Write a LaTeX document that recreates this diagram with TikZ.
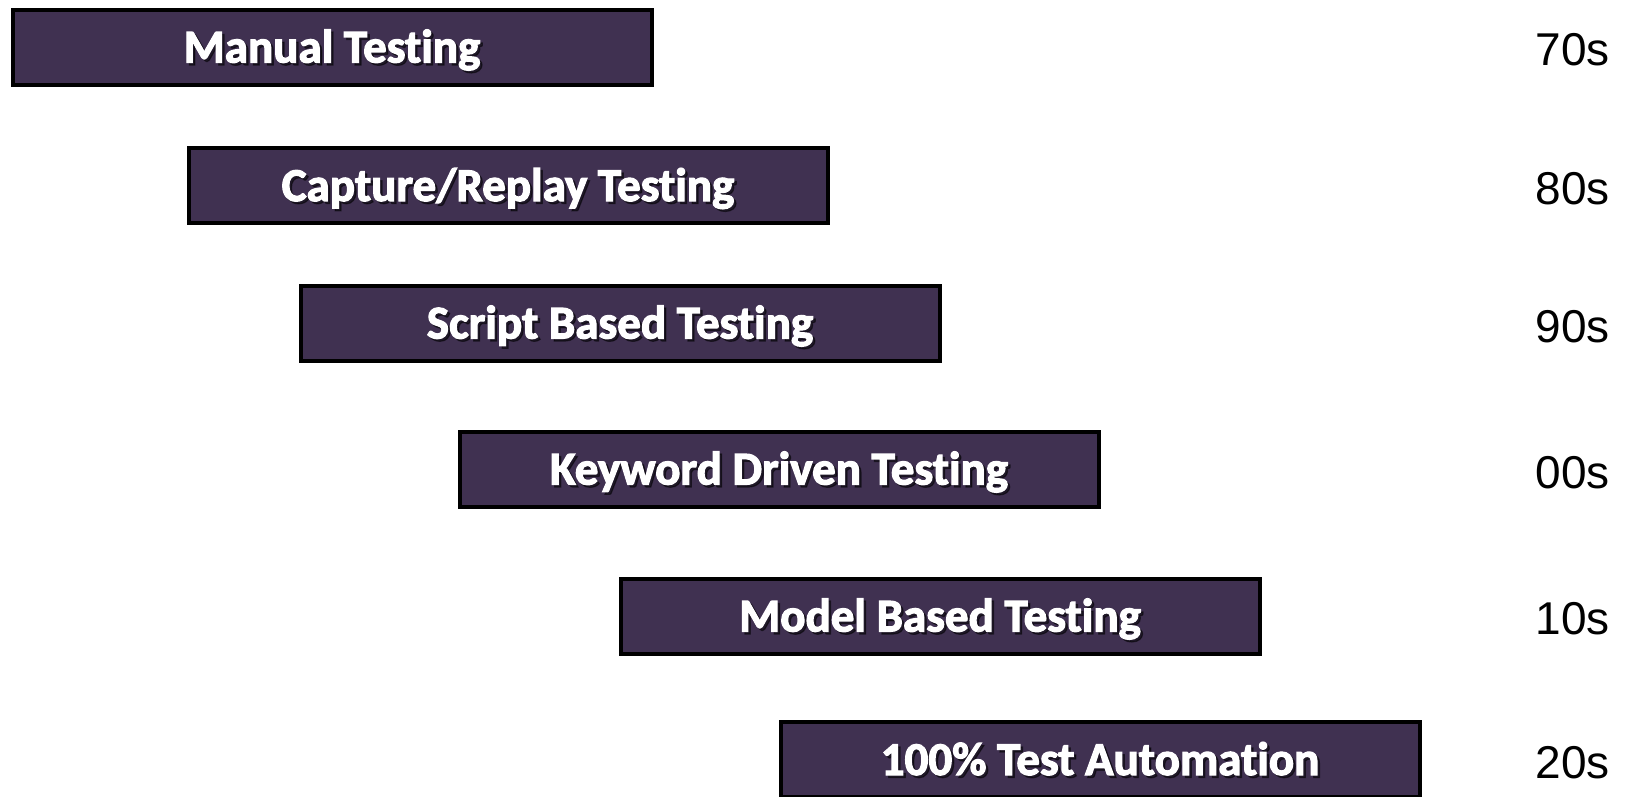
\documentclass[tikz,border=0pt]{standalone}
\usepackage{fontspec}
\setmainfont{Liberation Sans}
\newfontfamily\boxfont[BoldFeatures={FakeBold=2.5}, Ligatures=NoCommon]{Carlito}
\definecolor{boxpurple}{HTML}{403151}
\begin{document}
\begin{tikzpicture}[x=1pt,y=-1pt,
  stagebox/.style={draw=black, line width=4pt, fill=boxpurple, minimum width=639pt, minimum height=75pt, inner sep=0pt},
  boxtext/.style={text=white, anchor=base, inner sep=0pt, font=\boxfont\bfseries\fontsize{47}{47}\selectfont},
  shadowtext/.style={text=black, opacity=0.5, anchor=base, inner sep=0pt, font=\boxfont\bfseries\fontsize{47}{47}\selectfont},
  decade/.style={anchor=base east, inner sep=0pt, font=\fontsize{46}{46}\selectfont}]
\useasboundingbox (0,0) rectangle (1626,796);
\fill[white] (0,0) rectangle (1626,796);
% boxes
\node[stagebox] (b1) at (332,47) {};
\node[stagebox] (b2) at (508,185.5) {};
\node[stagebox] (b3) at (620,323) {};
\node[stagebox] (b4) at (779,469) {};
\node[stagebox] (b5) at (940,616) {};
\node[stagebox] (b6) at (1100,759.5) {};
% shadows
\node[shadowtext] (s1) at ([shift={(2.5,18)}]b1.center) {Manual Testing};
\node[shadowtext] (s2) at ([shift={(2.5,18)}]b2.center) {Capture/Replay Testing};
\node[shadowtext] (s3) at ([shift={(2.5,18)}]b3.center) {Script Based Testing};
\node[shadowtext] (s4) at ([shift={(2.5,18)}]b4.center) {Keyword Driven Testing};
\node[shadowtext] (s5) at ([shift={(2.5,18)}]b5.center) {Model Based Testing};
\node[shadowtext] (s6) at ([shift={(2.5,18)}]b6.center) {100\% Test Automation};
% texts
\node[boxtext] (t1) at ([shift={(0,15.5)}]b1.center) {Manual Testing};
\node[boxtext] (t2) at ([shift={(0,15.5)}]b2.center) {Capture/Replay Testing};
\node[boxtext] (t3) at ([shift={(0,15.5)}]b3.center) {Script Based Testing};
\node[boxtext] (t4) at ([shift={(0,15.5)}]b4.center) {Keyword Driven Testing};
\node[boxtext] (t5) at ([shift={(0,15.5)}]b5.center) {Model Based Testing};
\node[boxtext] (t6) at ([shift={(0,15.5)}]b6.center) {100\% Test Automation};
% decades
\node[decade] (d1) at (1610,65.5) {70s};
\node[decade] (d2) at (1610,204.5) {80s};
\node[decade] (d3) at (1610,342.5) {90s};
\node[decade] (d4) at (1610,488.5) {00s};
\node[decade] (d5) at (1610,634.5) {10s};
\node[decade] (d6) at (1610,778.5) {20s};
\end{tikzpicture}
\end{document}
